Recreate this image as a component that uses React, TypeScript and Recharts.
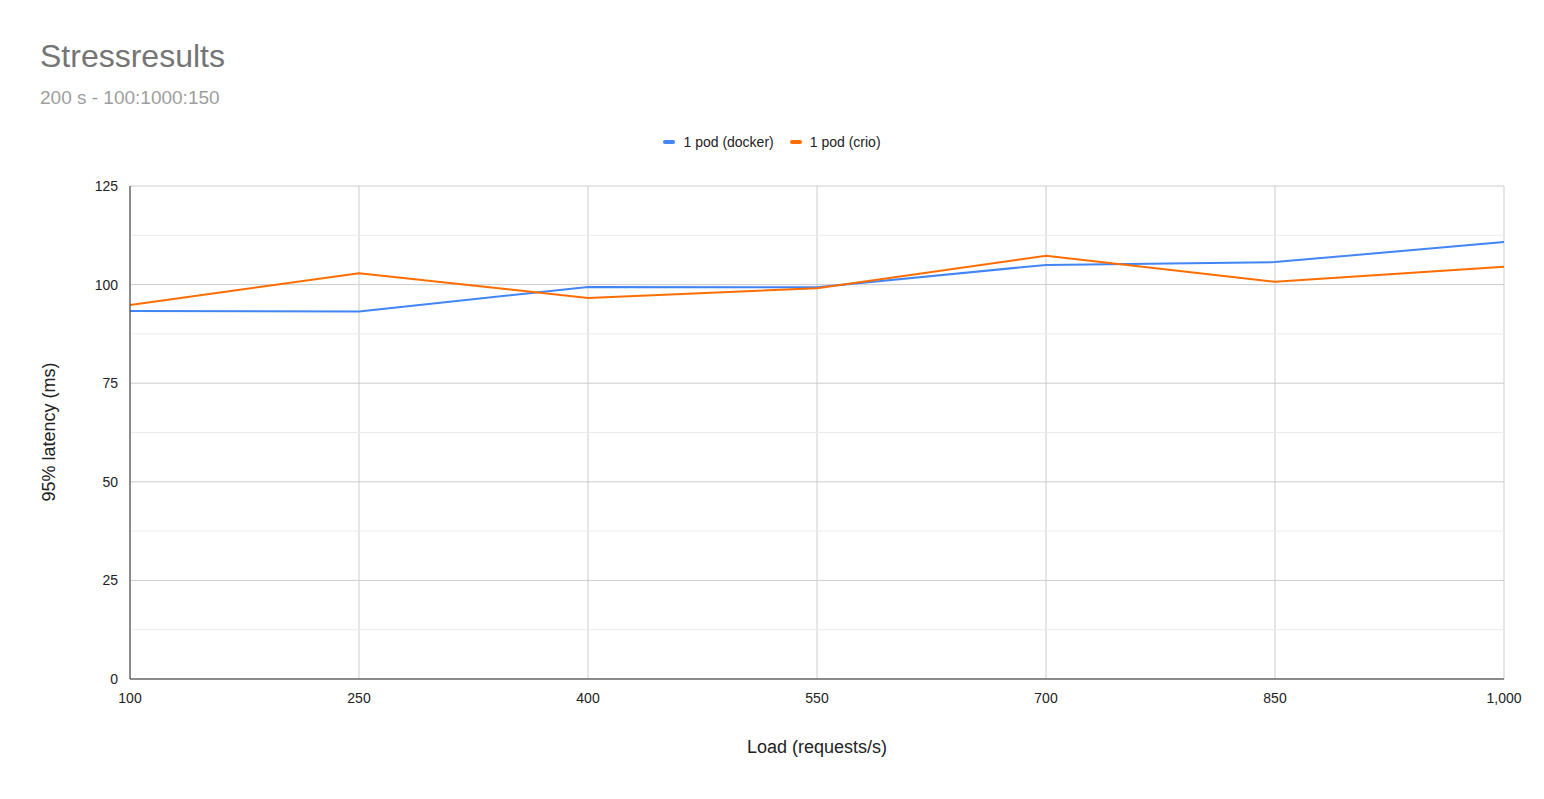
import { CartesianGrid, Line, LineChart, ReferenceLine, XAxis, YAxis } from 'recharts';

const loads = [100, 250, 400, 550, 700, 850, 1000];
const dockerLatency = [93.3, 93.2, 99.4, 99.3, 105.0, 105.7, 110.8];
const crioLatency = [94.8, 102.9, 96.6, 99.1, 107.3, 100.7, 104.5];
const yTicks = [0, 25, 50, 75, 100, 125];
const minorTicks = [12.5, 37.5, 62.5, 87.5, 112.5];
const seriesNames = ['1 pod (docker)', '1 pod (crio)'];
const seriesColors = ['#4285f4', '#ff6d01'];

const data = loads.map((load, i) => ({
  load,
  docker: dockerLatency[i],
  crio: crioLatency[i],
}));

const font = 'Arial, "Liberation Sans", sans-serif';

export default function App() {
  return (
    <div style={{ position: 'absolute', left: 0, top: 0, width: 1544, height: 799, background: '#fff', fontFamily: font }}>
      <div style={{ position: 'absolute', left: 40, top: 38, fontSize: 32, color: '#757575' }}>Stressresults</div>
      <div style={{ position: 'absolute', left: 40, top: 87, fontSize: 19, color: '#9e9e9e' }}>200 s - 100:1000:150</div>
      <div
        style={{
          position: 'absolute', top: 134, left: 0, width: 1544, display: 'flex', justifyContent: 'center',
          gap: 16, fontSize: 14, color: '#222',
        }}
      >
        {seriesNames.map((name, i) => (
          <span key={name} style={{ display: 'flex', alignItems: 'center', gap: 8 }}>
            <span style={{ width: 12, height: 4, borderRadius: 2, background: seriesColors[i], display: 'inline-block' }} />
            {name}
          </span>
        ))}
      </div>
      <div style={{ position: 'absolute', left: 0, top: 737, width: 1634, textAlign: 'center', fontSize: 18, color: '#222' }}>
        Load (requests/s)
      </div>
      <div
        style={{
          position: 'absolute', left: 49, top: 432, fontSize: 18, color: '#222', whiteSpace: 'nowrap',
          transform: 'translate(-50%, -50%) rotate(-90deg)',
        }}
      >
        95% latency (ms)
      </div>
      <LineChart width={1544} height={799} data={data} margin={{ top: 186, left: 70, right: 40, bottom: 90 }}>
        <CartesianGrid stroke="#cccccc" />
        {minorTicks.map((v) => (
          <ReferenceLine key={v} y={v} stroke="#ebebeb" />
        ))}
        <XAxis
          dataKey="load"
          type="number"
          domain={[100, 1000]}
          ticks={loads}
          tickFormatter={(v: number) => v.toLocaleString('en-US')}
          height={30}
          stroke="#333"
          tickLine={false}
          tick={{ fill: '#222', fontSize: 14, fontFamily: font }}
          tickMargin={8}
        />
        <YAxis
          domain={[0, 125]}
          ticks={yTicks}
          width={60}
          stroke="#333"
          tickLine={false}
          tick={{ fill: '#222', fontSize: 14, fontFamily: font }}
          tickMargin={6}
        />
        <Line dataKey="docker" name={seriesNames[0]} stroke={seriesColors[0]} strokeWidth={2} dot={false} isAnimationActive={false} />
        <Line dataKey="crio" name={seriesNames[1]} stroke={seriesColors[1]} strokeWidth={2} dot={false} isAnimationActive={false} />
      </LineChart>
    </div>
  );
}
